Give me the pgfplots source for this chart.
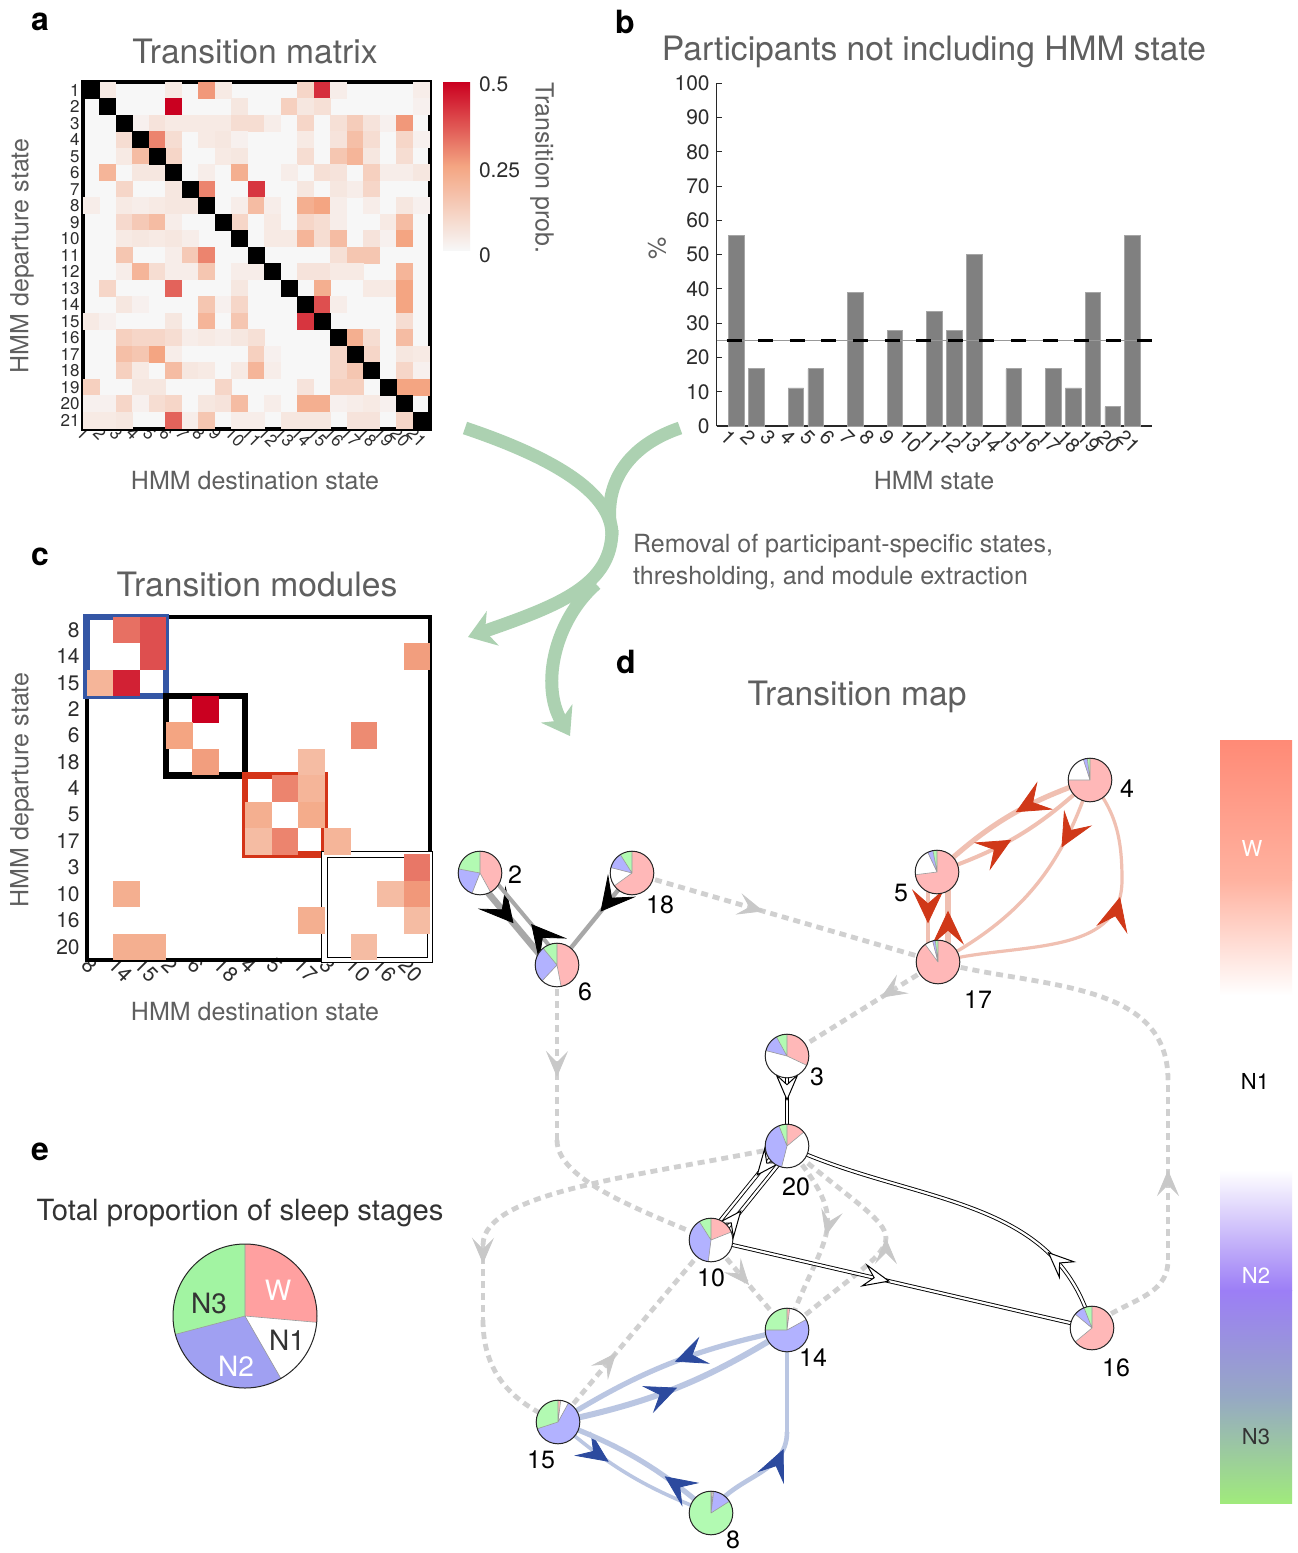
\documentclass[border=0pt]{standalone}
\usepackage{fontspec}
\setmainfont{TeX Gyre Heros}
\usepackage{pgfplots}
\pgfplotsset{compat=1.18}
\usetikzlibrary{arrows.meta,decorations.markings}
\definecolor{txtg}{RGB}{95,95,95}
\definecolor{tickc}{RGB}{45,45,45}
\definecolor{axc}{RGB}{40,40,40}
\definecolor{dotc}{RGB}{208,208,208}
\definecolor{dotA}{RGB}{200,200,200}
\definecolor{grayM}{RGB}{168,168,168}
\definecolor{redL}{RGB}{240,192,178}
\definecolor{redA}{RGB}{208,56,24}
\definecolor{blueL}{RGB}{186,198,226}
\definecolor{blueA}{RGB}{44,74,158}
\definecolor{greenA}{RGB}{172,209,177}
\definecolor{pW}{RGB}{255,184,184}
\definecolor{pN2}{RGB}{178,178,255}
\definecolor{pN3}{RGB}{178,250,178}
\definecolor{eW}{RGB}{255,160,160}
\definecolor{eN2}{RGB}{160,160,242}
\definecolor{eN3}{RGB}{162,244,162}
\definecolor{boxB}{RGB}{52,86,165}
\definecolor{boxR}{RGB}{212,52,24}
\definecolor{barc}{RGB}{128,128,128}
\definecolor{hr}{RGB}{202,0,32}
\definecolor{hmid}{RGB}{244,165,130}
\definecolor{hb}{RGB}{247,247,247}
\definecolor{cbW}{RGB}{255,138,118}
\definecolor{cbW2}{RGB}{255,178,160}
\definecolor{cbN2}{RGB}{156,126,246}
\definecolor{cbMid}{RGB}{150,168,196}
\definecolor{cbN3}{RGB}{160,234,124}
\pgfplotsset{colormap={hm}{rgb255=(247,247,247) rgb255=(244,165,130) rgb255=(202,0,32)}}
\tikzset{
  dotE/.style={draw=dotc,line width=2.4pt,dash pattern=on 3.5pt off 2.5pt},
  grayE/.style={draw=grayM},
  redE/.style={draw=redL},
  blueE/.style={draw=blueL},
  dblE/.style={draw=black,line width=0.45pt,double=white,double distance=1.1pt},
  greenE/.style={draw=greenA,line width=6.5pt},
}
\newcommand\E[4]{%
  \draw[#1] #4;
  \path[decoration={markings,mark=at position #3 with {\arrow{#2}}},decorate] #4;
}
\newcommand\ER[3]{\E{redE,#1}{Stealth[length=17pt,width=16pt,inset=7pt,color=redA]}{#2}{#3}}
\newcommand\EB[3]{\E{blueE,#1}{Stealth[length=16pt,width=14.5pt,inset=6.5pt,color=blueA]}{#2}{#3}}
\newcommand\EK[3]{\E{grayE,#1}{Stealth[length=17pt,width=18pt,inset=8pt,color=black]}{#2}{#3}}
\newcommand\ED[2]{\E{dotE}{Stealth[length=13pt,width=11pt,inset=5.5pt,color=dotA]}{#1}{#2}}
\newcommand\EO[2]{\E{dblE}{Stealth[open,fill=white,length=14pt,width=12pt,inset=5.5pt,line width=0.5pt,color=black]}{#1}{#2}}
% pie: x y radius w n1 n2 n3 (colours cW cN2 cN3)
\newcommand\pieG[7]{%
\begin{scope}[shift={(#1,#2)}]
\fill[cW] (0,0) -- (90:#3) arc[start angle=90, delta angle={-360*(#4)}, radius=#3] -- cycle;
\fill[white] (0,0) -- ({90-360*(#4)}:#3) arc[start angle={90-360*(#4)}, delta angle={-360*(#5)}, radius=#3] -- cycle;
\fill[cN2] (0,0) -- ({90-360*(#4+#5)}:#3) arc[start angle={90-360*(#4+#5)}, delta angle={-360*(#6)}, radius=#3] -- cycle;
\fill[cN3] (0,0) -- ({90-360*(#4+#5+#6)}:#3) arc[start angle={90-360*(#4+#5+#6)}, delta angle={-360*(#7)}, radius=#3] -- cycle;
\draw[black!40,line width=0.3pt] (0,0) -- (90:#3) (0,0) -- ({90-360*(#4)}:#3) (0,0) -- ({90-360*(#4+#5)}:#3) (0,0) -- ({90-360*(#4+#5+#6)}:#3);
\draw[black!85,line width=0.5pt] (0,0) circle[radius=#3];
\end{scope}}
\newcommand\pieN[6]{\pieG{#1}{#2}{10.9pt}{#3}{#4}{#5}{#6}}

\begin{document}
\begin{tikzpicture}
\fill[white] (0,0) rectangle (648.5pt,-776.5pt);
\useasboundingbox (0,0) rectangle (648.5pt,-776.5pt);

% ---------------- panel a ----------------
\begin{axis}[at={(41.5pt,-214.25pt)}, anchor=south west, x=8.25pt, y=8.25pt,
  xmin=0.5, xmax=21.5, ymin=0.5, ymax=21.5, clip=false,
  axis line style={draw=none}, tick style={draw=none},
  axis background/.style={fill=hb},
  xtick={1,...,21}, ytick={1,...,21},
  yticklabels={21,20,19,18,17,16,15,14,13,12,11,10,9,8,7,6,5,4,3,2,1},
  tick label style={font=\fontsize{8.5}{9}\selectfont, text=tickc},
  xticklabel style={rotate=-45, anchor=north west, xshift=-5pt, inner sep=1.5pt},
  yticklabel style={inner sep=1.5pt},
  /pgf/number format/assume math mode=true,
  colormap name=hm, point meta min=0, point meta max=0.5]
\addplot[scatter, only marks, mark=square*, mark size=4.0pt, scatter src=explicit,
  scatter/use mapped color={draw=mapped color,fill=mapped color}]
  table[x=c, y expr=22-\thisrow{r}, meta=v] {
r c v
1 2 .04
1 6 .04
1 8 .27
1 9 .04
1 14 .10
1 15 .43
1 16 .03
1 21 .03
2 6 .50
2 10 .05
2 13 .12
2 14 .05
2 15 .07
2 21 .02
3 4 .02
3 5 .06
3 6 .04
3 7 .04
3 8 .04
3 9 .04
3 10 .08
3 11 .08
3 12 .03
3 14 .10
3 16 .07
3 17 .13
3 18 .06
3 19 .02
3 20 .27
4 3 .08
4 5 .30
4 6 .08
4 8 .04
4 9 .05
4 10 .02
4 14 .04
4 16 .06
4 17 .17
4 18 .08
4 20 .10
4 21 .02
5 3 .04
5 4 .18
5 6 .10
5 9 .04
5 10 .05
5 14 .08
5 16 .15
5 17 .20
5 18 .05
5 20 .08
6 2 .20
6 4 .05
6 5 .05
6 8 .03
6 10 .22
6 13 .03
6 15 .07
6 16 .06
6 18 .12
6 19 .03
6 20 .03
6 21 .05
7 3 .10
7 6 .05
7 8 .30
7 11 .42
7 14 .05
7 16 .05
7 17 .03
7 18 .10
8 1 .03
8 3 .04
8 4 .03
8 5 .04
8 6 .05
8 7 .05
8 10 .03
8 11 .18
8 12 .03
8 14 .22
8 15 .25
8 16 .03
8 18 .03
8 20 .05
8 21 .02
9 3 .09
9 4 .14
9 5 .18
9 6 .03
9 10 .10
9 12 .04
9 14 .10
9 15 .08
9 16 .03
9 19 .04
9 20 .18
10 3 .04
10 4 .05
10 5 .04
10 6 .05
10 7 .03
10 12 .04
10 13 .04
10 14 .20
10 15 .08
10 16 .18
10 18 .06
10 19 .02
10 20 .25
11 3 .15
11 6 .03
11 7 .14
11 8 .30
11 16 .07
11 17 .15
11 18 .15
12 3 .03
12 4 .20
12 5 .08
12 6 .03
12 7 .03
12 8 .15
12 10 .03
12 11 .03
12 14 .06
12 15 .06
12 16 .04
12 17 .04
12 20 .20
13 2 .10
13 6 .35
13 10 .05
13 15 .22
13 18 .04
13 19 .04
13 20 .25
14 3 .05
14 4 .02
14 8 .15
14 9 .02
14 10 .10
14 15 .38
14 16 .03
14 20 .25
15 1 .04
15 2 .02
15 6 .05
15 8 .20
15 10 .15
15 14 .42
15 20 .08
16 3 .12
16 4 .10
16 5 .10
16 6 .08
16 7 .03
16 8 .04
16 9 .03
16 10 .05
16 11 .07
16 17 .22
16 18 .08
16 20 .18
17 3 .17
17 4 .15
17 5 .25
17 6 .03
17 11 .12
17 12 .02
17 16 .10
17 18 .10
17 20 .05
17 21 .04
18 3 .12
18 4 .04
18 6 .18
18 7 .05
18 8 .04
18 10 .04
18 11 .20
18 12 .03
18 16 .10
18 17 .15
18 20 .10
18 21 .02
19 1 .12
19 4 .05
19 5 .05
19 9 .10
19 14 .06
19 16 .12
19 17 .12
19 20 .25
19 21 .25
20 1 .02
20 2 .02
20 3 .10
20 4 .02
20 5 .08
20 6 .10
20 8 .05
20 9 .06
20 10 .18
20 12 .03
20 14 .22
20 15 .22
20 16 .02
20 17 .03
20 18 .04
20 19 .02
21 1 .04
21 2 .04
21 3 .05
21 6 .35
21 7 .03
21 8 .15
21 10 .03
21 11 .03
21 13 .05
21 14 .05
21 15 .05
21 17 .06
21 18 .06
21 20 .10
};
\addplot[only marks, mark=square*, mark size=4.0pt, black] coordinates {
(1,21)(2,20)(3,19)(4,18)(5,17)(6,16)(7,15)(8,14)(9,13)(10,12)(11,11)
(12,10)(13,9)(14,8)(15,7)(16,6)(17,5)(18,4)(19,3)(20,2)(21,1)};
\draw[black, line width=2pt] (0.5,0.5) rectangle (21.5,21.5);
\end{axis}

% ---------------- panel b ----------------
\begin{axis}[at={(358.35pt,-213pt)}, anchor=south west, x=9.9pt, y=1.7135pt,
  xmin=0, xmax=22, ymin=0, ymax=100, clip=false,
  axis lines*=left, axis line style={draw=axc, line width=0.6pt},
  xtick={1,...,21}, ytick={0,10,...,100},
  tick align=inside, major tick length=2.5pt,
  x tick style={draw=none}, y tick style={draw=axc, line width=0.5pt},
  tick label style={font=\fontsize{10.5}{11}\selectfont, text=tickc},
  xticklabel style={rotate=-45, anchor=north west, xshift=-5pt, font=\fontsize{10}{11}\selectfont},
  /pgf/number format/assume math mode=true]
\addplot[ybar, bar width=7.8pt, fill=barc, draw=black!35, line width=0.4pt] coordinates {
(1,55.6)(2,16.7)(4,11.1)(5,16.7)(7,38.9)(9,27.8)(11,33.3)(12,27.8)(13,50)
(15,16.7)(17,16.7)(18,11.1)(19,38.9)(20,5.6)(21,55.6)};
\addplot[black!40, line width=0.4pt] coordinates {(0,25)(22,25)};
\addplot[black, line width=1.6pt, dash pattern=on 7.5pt off 8.3pt] coordinates {(0.5,25)(22,25)};
\end{axis}

% ---------------- panel c ----------------
\begin{axis}[at={(43.35pt,-480pt)}, anchor=south west, x=13.2pt, y=13.2pt,
  xmin=0.5, xmax=13.5, ymin=0.5, ymax=13.5, clip=false,
  axis line style={draw=none}, tick style={draw=none},
  xtick={1,...,13}, ytick={1,...,13},
  xticklabels={8,14,15,2,6,18,4,5,17,3,10,16,20},
  yticklabels={20,16,10,3,17,5,4,18,6,2,15,14,8},
  tick label style={font=\fontsize{10.5}{11}\selectfont, text=tickc},
  xticklabel style={rotate=-45, anchor=north west, xshift=-6pt, inner sep=1.5pt},
  /pgf/number format/assume math mode=true,
  colormap name=hm, point meta min=0, point meta max=0.5]
\addplot[scatter, only marks, mark=square*, mark size=6.4pt, scatter src=explicit,
  scatter/use mapped color={draw=mapped color,fill=mapped color}]
  table[x=c, y expr=14-\thisrow{r}, meta=v] {
r c v
1 2 .33
1 3 .38
2 3 .38
2 13 .26
3 1 .20
3 2 .45
4 5 .50
5 4 .25
5 11 .29
6 5 .26
6 9 .18
7 8 .30
7 9 .20
8 7 .22
8 9 .23
9 7 .18
9 8 .30
9 10 .20
10 13 .32
11 2 .22
11 12 .18
11 13 .27
12 9 .22
12 13 .18
13 2 .22
13 3 .22
13 11 .18
};
\draw[black, line width=1.8pt] (0.5,0.5) rectangle (13.5,13.5);
\draw[boxB, line width=3.3pt] (0.5,10.5) rectangle (3.5,13.5);
\draw[black, line width=3.3pt] (3.5,7.5) rectangle (6.5,10.5);
\draw[boxR, line width=3.3pt] (6.5,4.5) rectangle (9.5,7.5);
\draw[black, line width=0.6pt, double=white, double distance=2.2pt] (9.5,0.5) rectangle (13.5,4.5);
\end{axis}

% ---------------- overlay (pixel units) ----------------
\begin{scope}[x=0.5pt,y=-0.5pt]
% colour bar of panel a
\shade[top color=hr, bottom color=hb, middle color=hmid] (443,82) rectangle (470,250);
\begin{scope}[font=\fontsize{10.5}{11}\selectfont, text=tickc]
\node[anchor=west] at (472,84) {0.5};
\node[anchor=west] at (472,170) {0.25};
\node[anchor=west] at (472,255) {0};
\end{scope}
% panel letters
\begin{scope}[font=\bfseries\fontsize{16}{18}\selectfont]
\node at (40,22) {a};
\node at (625,22) {b};
\node at (40,557) {c};
\node at (626,662) {d};
\node at (40,1152) {e};
\end{scope}
% titles
\begin{scope}[font=\fontsize{16.8}{19}\selectfont, text=txtg]
\node at (255,52) {Transition matrix};
\node at (934,52) {Participants not including HMM state};
\node at (257,584) {Transition modules};
\node at (857,697) {Transition map};
\end{scope}
\node[font=\fontsize{14.6}{17}\selectfont, text=black!80] at (240,1213) {Total proportion of sleep stages};
% axis labels
\begin{scope}[font=\fontsize{12.5}{15}\selectfont, text=txtg]
\node at (255,481) {HMM destination state};
\node at (255,1012) {HMM destination state};
\node[rotate=90] at (22,256) {HMM departure state};
\node[rotate=90] at (22,790) {HMM departure state};
\node at (934,481) {HMM state};
\node[rotate=90] at (657,248) {\%};
\node[rotate=-90] at (542,168) {Transition prob.};
\node[anchor=west] at (626,546) {Removal of participant-specific states,};
\node[anchor=west] at (626,578) {thresholding, and module extraction};
\end{scope}

% green arrows
\draw[greenE] (465,428) .. controls (560,460) and (612,495) .. (612,535);
\draw[greenE] (680,428) .. controls (630,445) and (606,480) .. (610,522);
\draw[greenE, -{Stealth[length=13pt,width=18pt,inset=4pt]}] (612,530) .. controls (612,585) and (560,605) .. (468,637);
\draw[greenE, -{Stealth[length=13pt,width=18pt,inset=4pt]}] (596,584) .. controls (555,620) and (540,685) .. (570,736);

% right colour bar
\shade[top color=cbW, bottom color=cbW2] (1220,740) rectangle (1292,880.5);
\shade[top color=cbW2, bottom color=white] (1220,880) rectangle (1292,995.5);
\fill[white] (1220,995) rectangle (1292,1170.5);
\shade[top color=white, bottom color=cbN2] (1220,1170) rectangle (1292,1290.5);
\shade[top color=cbN2, bottom color=cbN3, middle color=cbMid] (1220,1290) rectangle (1292,1503);
\begin{scope}[font=\fontsize{11}{13}\selectfont]
\node[text=white] at (1252,848) {W};
\node[text=black] at (1255,1081) {N1};
\node[text=white] at (1256,1275) {N2};
\node[text=black!80] at (1256,1437) {N3};
\end{scope}

% ----- network edges -----
% dotted grey
\ED{0.43}{(632,873) -- (938,962)}
\ED{0.38}{(938,962) -- (787,1056)}
\draw[dotE] (1092,1328) to[out=45,in=-90] (1168,1260);
\ED{0.5}{(1168,1260) -- (1168,1080)}
\draw[dotE] (1168,1080) to[out=90,in=-15] (938,962);
\ED{0.64}{(557,965) -- (557,1140)}
\draw[dotE] (557,1140) .. controls (557,1180) and (640,1210) .. (711,1240);
\draw[dotE] (787,1146) .. controls (650,1175) and (483,1190) .. (483,1245);
\ED{0.25}{(483,1245) -- (483,1320)}
\draw[dotE] (483,1320) .. controls (483,1380) and (520,1405) .. (558,1422);
\ED{0.38}{(558,1422) -- (711,1240)}
\ED{0.5}{(711,1240) -- (787,1330)}
\ED{0.5}{(787,1146) to[out=-50,in=70,looseness=1.5] (787,1330)}
\ED{0.5}{(787,1330) to[out=40,in=-40,looseness=2.4] (787,1146)}
% grey module
\EK{line width=3.3pt}{0.5}{(475,877.2) -- (552,969.2)}
\EK{line width=2pt}{0.4}{(562,960.8) -- (485,868.8)}
\EK{line width=2.2pt}{0.42}{(632,873) -- (557,965)}
% red module
\ER{line width=2.6pt}{0.45}{(1090,780) to[bend right=12] (937,872)}
\ER{line width=2pt}{0.45}{(937,872) to[bend right=12] (1090,780)}
\ER{line width=1.7pt}{0.3}{(1090,780) to[bend left=22] (938,962)}
\ER{line width=1.6pt}{0.62}{(938,962) to[out=15,in=-90] (1122,880) to[out=90,in=-50] (1090,780)}
\ER{line width=2pt}{0.57}{(928,872) -- (928,962)}
\ER{line width=2.6pt}{0.57}{(948,962) -- (948,872)}
% double-line module
\EO{0.5}{(787,1056) -- (787,1146)}
\EO{0.35}{(783.1,1142.9) -- (707.1,1236.9)}
\EO{0.35}{(714.9,1243.1) -- (790.9,1149.1)}
\EO{0.47}{(711,1240) -- (1092,1328)}
\EO{0.24}{(1092,1328) to[out=105,in=-25] (787,1146)}
% blue module
\EB{line width=2.6pt}{0.47}{(787,1330) to[bend right=10] (558,1422)}
\EB{line width=3pt}{0.5}{(558,1422) to[bend right=10] (787,1330)}
\EB{line width=1.8pt}{0.36}{(558,1422) to[bend right=10] (711,1513)}
\EB{line width=2.6pt}{0.33}{(711,1513) to[bend right=10] (558,1422)}
\draw[blueE, line width=2.3pt] (787,1432) -- (787,1330);
\EB{line width=2.3pt}{0.85}{(711,1513) to[out=60,in=-90] (787,1432)}

% ----- pies -----
\colorlet{cW}{pW}\colorlet{cN2}{pN2}\colorlet{cN3}{pN3}
\pieN{480}{873}{.42}{.14}{.22}{.22}
\pieN{632}{873}{.65}{.14}{.12}{.09}
\pieN{557}{965}{.47}{.15}{.27}{.11}
\pieN{1090}{780}{.75}{.20}{.03}{.02}
\pieN{937}{872}{.73}{.20}{.04}{.03}
\pieN{938}{962}{.90}{.06}{.02}{.02}
\pieN{787}{1056}{.32}{.47}{.13}{.08}
\pieN{787}{1146}{.14}{.40}{.40}{.06}
\pieN{711}{1240}{.19}{.33}{.39}{.09}
\pieN{1092}{1328}{.64}{.22}{.08}{.06}
\pieN{787}{1330}{.02}{.15}{.58}{.25}
\pieN{558}{1422}{.02}{.06}{.62}{.30}
\pieN{711}{1513}{.01}{.01}{.14}{.84}
% node labels
\begin{scope}[font=\fontsize{12.5}{15}\selectfont, inner sep=0pt]
\node at (515,875) {2};
\node at (660,905) {18};
\node at (585,992) {6};
\node at (1127,789) {4};
\node at (901,893) {5};
\node at (978,1000) {17};
\node at (817,1077) {3};
\node at (796,1187) {20};
\node at (711,1278) {10};
\node at (1116,1368) {16};
\node at (813,1358) {14};
\node at (541,1460) {15};
\node at (733,1540) {8};
\end{scope}

% ----- panel e pie -----
\colorlet{cW}{eW}\colorlet{cN2}{eN2}\colorlet{cN3}{eN3}
\pieG{245}{1316}{36pt}{.264}{.153}{.292}{.291}
\begin{scope}[font=\fontsize{14}{16}\selectfont]
\node[text=white] at (278,1290) {W};
\node[text=black!80] at (287,1340) {N1};
\node[text=white] at (236,1366) {N2};
\node[text=black!80] at (209,1303) {N3};
\end{scope}
\end{scope}
\end{tikzpicture}
\end{document}
